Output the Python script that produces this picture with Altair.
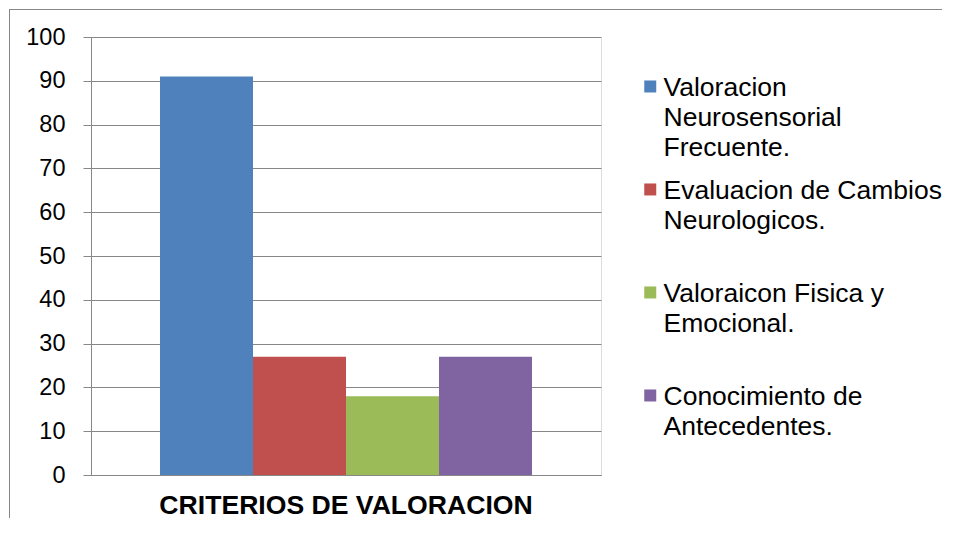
import altair as alt
import pandas as pd

category = "CRITERIOS DE VALORACION"
series = [
    "Valoracion Neurosensorial Frecuente.",
    "Evaluacion de Cambios Neurologicos.",
    "Valoraicon Fisica y Emocional.",
    "Conocimiento de Antecedentes.",
]
values = [91, 27, 18, 27]
legend_lines = [
    ["Valoracion", "Neurosensorial", "Frecuente."],
    ["Evaluacion de Cambios", "Neurologicos."],
    ["Valoraicon Fisica y", "Emocional."],
    ["Conocimiento de", "Antecedentes."],
]
colors = ["#4F81BD", "#C0504D", "#9BBB59", "#8064A2"]
y_ticks = list(range(0, 101, 10))

df = pd.DataFrame({"categoria": [category] * len(series), "serie": series, "valor": values})

# multi-line legend labels
expr = "datum.label"
for name, lines in reversed(list(zip(series, legend_lines))):
    arr = "[" + ",".join("'" + l + "'" for l in lines) + "]"
    expr = f"datum.label == '{name}' ? {arr} : ({expr})"

FONT = "Liberation Sans"
GRAY = "#878787"

bars = alt.Chart(df).mark_bar().encode(
    x=alt.X(
        "categoria:N",
        title=None,
        scale=alt.Scale(paddingInner=0, paddingOuter=0.1855),
        axis=alt.Axis(
            labelFont=FONT, labelFontSize=26.6, labelFontWeight="bold", labelColor="black",
            labelAngle=0, labelPadding=17, labelLimit=800, ticks=False,
            domainColor=GRAY, domainWidth=1,
        ),
    ),
    xOffset=alt.XOffset("serie:N", sort=series, scale=alt.Scale(paddingInner=0, paddingOuter=0)),
    y=alt.Y(
        "valor:Q",
        title=None,
        scale=alt.Scale(domain=[0, 100], nice=False),
        axis=alt.Axis(
            values=y_ticks, labelFont=FONT, labelFontSize=23.5, labelColor="black",
            labelPadding=18, tickSize=8, tickColor=GRAY, domainColor=GRAY,
            gridColor=GRAY, gridWidth=1,
        ),
    ),
    color=alt.Color(
        "serie:N",
        sort=series,
        scale=alt.Scale(domain=series, range=colors),
        legend=alt.Legend(
            title=None, orient="none", legendX=546, legendY=25, direction="vertical",
            labelFont=FONT, labelFontSize=26.5, labelColor="black", labelLimit=500,
            labelExpr=expr, labelBaseline="top", labelOffset=0,
            symbolType="M-1,0.87H1V2.87H-1Z", symbolSize=144, symbolStrokeWidth=0,
            gridAlign="all", rowPadding=3,
        ),
    ),
)

frame_df = pd.DataFrame({"k": [0]})
top_line = alt.Chart(frame_df).mark_rule(color=GRAY, strokeWidth=1).encode(
    x=alt.value(-82), x2=alt.value(851), y=alt.value(-27.5)
)
left_line = alt.Chart(frame_df).mark_rule(color=GRAY, strokeWidth=1).encode(
    x=alt.value(-81.5), y=alt.value(-28), y2=alt.value(481)
)

chart = (
    alt.layer(bars, top_line, left_line)
    .properties(width=510, height=438, padding=0)
    .configure_view(stroke=None)
    .configure(style={"guide-label": {"lineHeight": 30}})
)

chart.save("out.html", embed_options={"renderer": "svg", "actions": False})
